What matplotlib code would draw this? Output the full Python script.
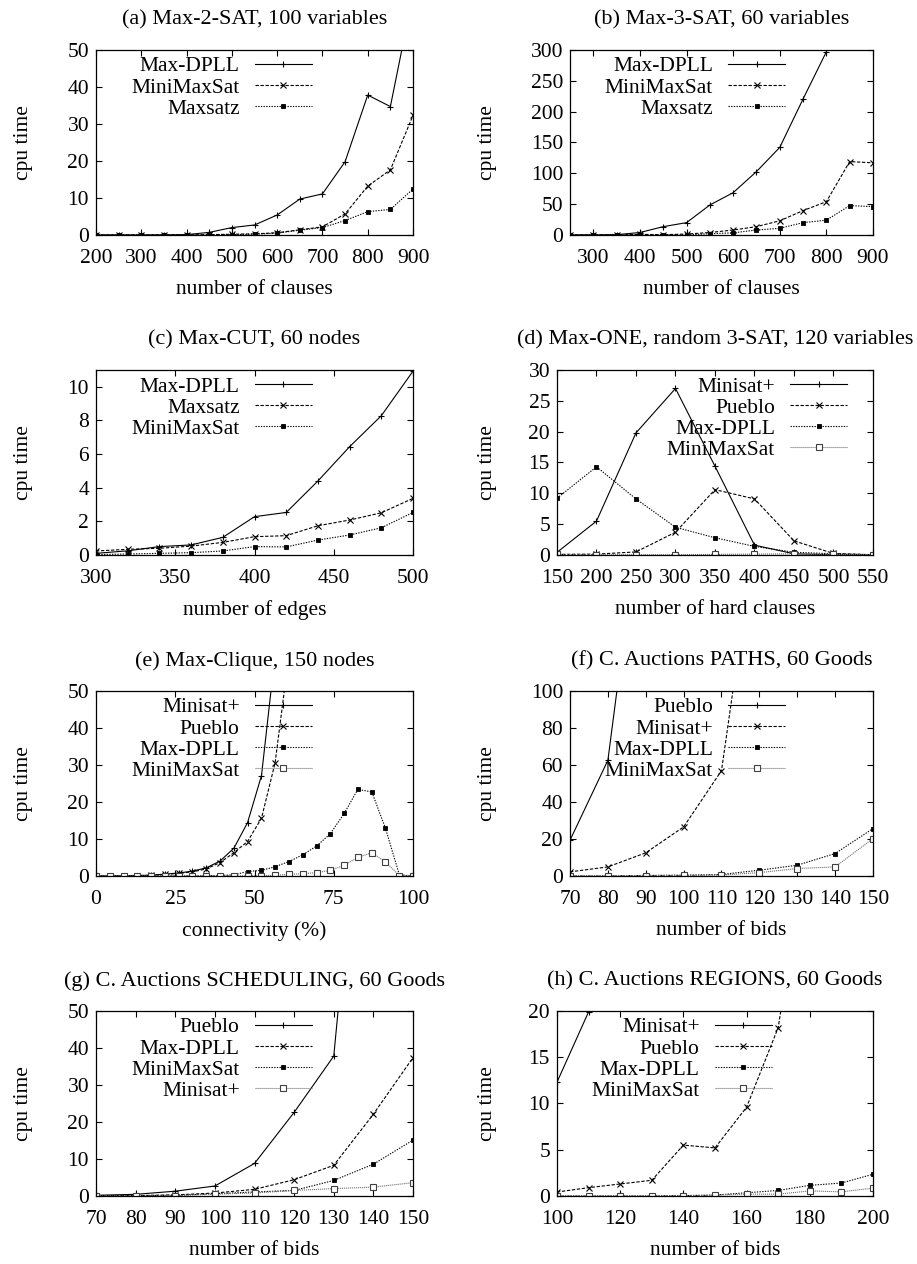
import matplotlib
matplotlib.use("Agg")
import matplotlib.pyplot as plt

plt.rcParams['font.family'] = ['Liberation Serif', 'DejaVu Serif']
plt.rcParams['font.size'] = 15.5

# (a) Max-2-SAT, 100 variables
a_x = [200, 250, 300, 350, 400, 450, 500, 550, 600, 650, 700, 750, 800, 850, 900]
a_maxdpll = [0, 0, 0, 0, 0.1, 0.7, 2.0, 2.7, 5.4, 9.7, 11.1, 19.8, 37.8, 34.7, 65]
a_minimaxsat = [0, 0, 0, 0, 0, 0.1, 0.2, 0.3, 0.6, 1.4, 2.2, 5.7, 13.2, 17.6, 32.3]
a_maxsatz = [0, 0, 0, 0, 0, 0, 0.1, 0.2, 0.5, 1.3, 2.0, 3.9, 6.3, 6.9, 12.4]

# (b) Max-3-SAT, 60 variables
b_x = [250, 300, 350, 400, 450, 500, 550, 600, 650, 700, 750, 800, 850, 900]
b_maxdpll = [0, 0, 0.5, 4, 13.5, 20, 48.6, 68.6, 102.7, 142, 220.5, 297, 410, 560]
b_minimaxsat = [0, 0, 0, 1, 0.5, 1.5, 4, 8, 13.5, 23, 39.5, 54, 119, 117]
b_maxsatz = [0, 0, 0, 0, 0, 0, 2, 3.5, 8, 10.8, 20, 24, 47.6, 46]

# (c) Max-CUT, 60 nodes
c_x = [300, 320, 340, 360, 380, 400, 420, 440, 460, 480, 500]
c_maxdpll = [0.1, 0.25, 0.5, 0.6, 1.05, 2.28, 2.53, 4.4, 6.44, 8.28, 10.93]
c_maxsatz = [0.24, 0.34, 0.4, 0.53, 0.75, 1.09, 1.15, 1.74, 2.08, 2.51, 3.37]
c_minimaxsat = [0.03, 0.06, 0.1, 0.14, 0.24, 0.5, 0.48, 0.89, 1.19, 1.62, 2.53]

# (d) Max-ONE, random 3-SAT, 120 variables
d_x = [150, 200, 250, 300, 350, 400, 450, 500, 550]
d_minisat = [0.43, 5.5, 19.8, 27.0, 14.4, 1.6, 0.2, 0.05, 0]
d_pueblo = [0.1, 0.15, 0.5, 3.7, 10.6, 9.1, 2.3, 0.25, 0.05]
d_maxdpll = [9.2, 14.3, 9.1, 4.5, 2.8, 1.4, 0.45, 0.2, 0.05]
d_minimaxsat = [0.1, 0.05, 0.05, 0.05, 0.1, 0.15, 0.2, 0.1, 0.05]

# (e) Max-Clique, 150 nodes
e_x = [0, 4.3, 8.7, 13.0, 17.4, 21.7, 26.1, 30.4, 34.8, 39.1, 43.5, 47.8,
       52.2, 56.5, 60.9, 65.2, 69.6, 73.9, 78.3, 82.6, 87.0, 91.3, 95.7, 100]
e_minisat = [0, 0, 0.05, 0.1, 0.2, 0.5, 0.8, 1.3, 2.2, 4.0, 7.5, 14.4, 27.1, 60]
e_pueblo = [0, 0, 0.05, 0.1, 0.2, 0.4, 0.7, 1.1, 1.9, 3.6, 6.3, 9.3, 15.6, 30.6, 60]
e_maxdpll = [0, 0, 0, 0, 0, 0, 0, 0, 0.05, 0.1, 0.3, 1.2, 1.5, 2.5, 3.9, 5.7,
             8.1, 11.4, 16.9, 23.4, 22.7, 12.9, 0.3, 0]
e_minimaxsat = [0, 0, 0, 0, 0, 0, 0, 0, 0, 0, 0, 0, 0.05, 0.2, 0.4, 0.6,
                0.9, 1.5, 2.9, 5.0, 6.3, 3.8, 0.1, 0]

# (f) C. Auctions PATHS, 60 Goods
f_x = [70, 80, 90, 100, 110, 120, 130, 140, 150]
f_pueblo = [19.3, 62.5, 220]
f_minisat = [2.2, 4.9, 12.5, 26.5, 56.9, 200]
f_maxdpll = [0, 0, 0.3, 0.4, 0.8, 3.1, 5.8, 12.1, 25.6]
f_minimaxsat = [0, 0, 0.2, 0.3, 0.5, 1.8, 4.0, 4.9, 20.2]

# (g) C. Auctions SCHEDULING, 60 Goods
g_x = [70, 80, 90, 100, 110, 120, 130, 140, 150]
g_pueblo = [0.2, 0.45, 1.3, 2.7, 8.8, 22.6, 37.8, 150]
g_maxdpll = [0.1, 0.1, 0.3, 0.8, 1.8, 4.4, 8.3, 22.1, 37.4]
g_minimaxsat = [0, 0.1, 0.2, 0.6, 1.1, 1.5, 4.2, 8.6, 15.1]
g_minisat = [0, 0, 0.1, 0.5, 0.8, 1.5, 2.0, 2.4, 3.6]

# (h) C. Auctions REGIONS, 60 Goods
h_x = [100, 110, 120, 130, 140, 150, 160, 170, 180, 190, 200]
h_minisat = [12.3, 19.9, 30]
h_pueblo = [0.43, 0.9, 1.3, 1.7, 5.5, 5.2, 9.6, 18.2, 40]
h_maxdpll = [0, 0, 0, 0, 0.05, 0.1, 0.35, 0.6, 1.15, 1.4, 2.35]
h_minimaxsat = [0, 0, 0, 0, 0, 0.1, 0.2, 0.2, 0.55, 0.45, 0.85]

# gnuplot-like line types: solid/+, dashed/x, dotted/*, fine grey/open square
styles = [
    dict(color='black', ls='-', marker='+', ms=5, mew=0.8),
    dict(color='black', ls=(0, (3, 1.5)), marker='x', ms=4, mew=0.8),
    dict(color='black', ls=(0, (1.2, 1.2)), marker='s', ms=3, mew=0.6),
    dict(color='0.45', ls=(0, (1, 0.8)), marker='s', ms=4.5, mew=0.8,
         mfc='white', mec='0.25'),
]


def panel(rect, title, xlabel, x, series, xlim, xticks, ylim, yticks, leg_x, ylab_x):
    ax = fig.add_axes(rect)
    for k, (label, ys) in enumerate(series):
        ax.plot(x[:len(ys)], ys, lw=0.8, label=label, **styles[k])
    ax.set_xlim(*xlim)
    ax.set_ylim(*ylim)
    ax.set_xticks(xticks)
    ax.set_yticks(yticks)
    ax.tick_params(direction='in', top=True, right=True, length=4, width=0.8)
    ax.tick_params(axis='x', pad=10)
    ax.tick_params(axis='y', pad=5)
    for s in ax.spines.values():
        s.set_linewidth(0.9)
    ax.set_title(title, fontsize=16, pad=18)
    ax.set_xlabel(xlabel, labelpad=9)
    ax.set_ylabel('cpu time')
    ax.yaxis.set_label_coords(ylab_x, 0.5)
    ax.legend(loc='upper right', bbox_to_anchor=(leg_x, 0.965), frameon=False,
              markerfirst=False, numpoints=1, handlelength=2.65,
              handletextpad=0.7, labelspacing=0.05, borderpad=0,
              borderaxespad=0)
    return ax


fig = plt.figure(figsize=(9.17, 12.64), dpi=100)

L = [0.1047, 0.3457]
row_b = [0.8141, 0.5609, 0.3070, 0.0538]
H = 0.1464

panel([L[0], row_b[0], L[1], H], '(a) Max-2-SAT, 100 variables', 'number of clauses',
      a_x, [('Max-DPLL', a_maxdpll), ('MiniMaxSat', a_minimaxsat), ('Maxsatz', a_maxsatz)],
      (200, 900), range(200, 901, 100), (0, 50), range(0, 51, 10), 0.681, -0.2)

panel([0.6216, row_b[0], 0.3304, H], '(b) Max-3-SAT, 60 variables', 'number of clauses',
      b_x, [('Max-DPLL', b_maxdpll), ('MiniMaxSat', b_minimaxsat), ('Maxsatz', b_maxsatz)],
      (250, 900), range(300, 901, 100), (0, 300), range(0, 301, 50), 0.71, -0.24)

panel([L[0], row_b[1], L[1], H], '(c) Max-CUT, 60 nodes', 'number of edges',
      c_x, [('Max-DPLL', c_maxdpll), ('Maxsatz', c_maxsatz), ('MiniMaxSat', c_minimaxsat)],
      (300, 500), range(300, 501, 50), (0, 11), range(0, 11, 2), 0.681, -0.2)

panel([0.6074, row_b[1], 0.3446, H], '(d) Max-ONE, random 3-SAT, 120 variables',
      'number of hard clauses',
      d_x, [('Minisat+', d_minisat), ('Pueblo', d_pueblo), ('Max-DPLL', d_maxdpll),
            ('MiniMaxSat', d_minimaxsat)],
      (150, 550), range(150, 551, 50), (0, 30), range(0, 31, 5), 0.918, -0.19)

panel([L[0], row_b[2], L[1], H], '(e) Max-Clique, 150 nodes', 'connectivity (%)',
      e_x, [('Minisat+', e_minisat), ('Pueblo', e_pueblo), ('Max-DPLL', e_maxdpll),
            ('MiniMaxSat', e_minimaxsat)],
      (0, 100), range(0, 101, 25), (0, 50), range(0, 51, 10), 0.681, -0.2)

panel([0.6216, row_b[2], 0.3304, H], '(f) C. Auctions PATHS, 60 Goods', 'number of bids',
      f_x, [('Pueblo', f_pueblo), ('Minisat+', f_minisat), ('Max-DPLL', f_maxdpll),
            ('MiniMaxSat', f_minimaxsat)],
      (70, 150), range(70, 151, 10), (0, 100), range(0, 101, 20), 0.71, -0.24)

panel([L[0], row_b[3], L[1], H], '(g) C. Auctions SCHEDULING, 60 Goods', 'number of bids',
      g_x, [('Pueblo', g_pueblo), ('Max-DPLL', g_maxdpll), ('MiniMaxSat', g_minimaxsat),
            ('Minisat+', g_minisat)],
      (70, 150), range(70, 151, 10), (0, 50), range(0, 51, 10), 0.681, -0.2)

panel([0.6074, row_b[3], 0.3446, H], '(h) C. Auctions REGIONS, 60 Goods', 'number of bids',
      h_x, [('Minisat+', h_minisat), ('Pueblo', h_pueblo), ('Max-DPLL', h_maxdpll),
            ('MiniMaxSat', h_minimaxsat)],
      (100, 200), range(100, 201, 20), (0, 20), range(0, 21, 5), 0.68, -0.19)

fig.savefig('out.png', dpi=100)
